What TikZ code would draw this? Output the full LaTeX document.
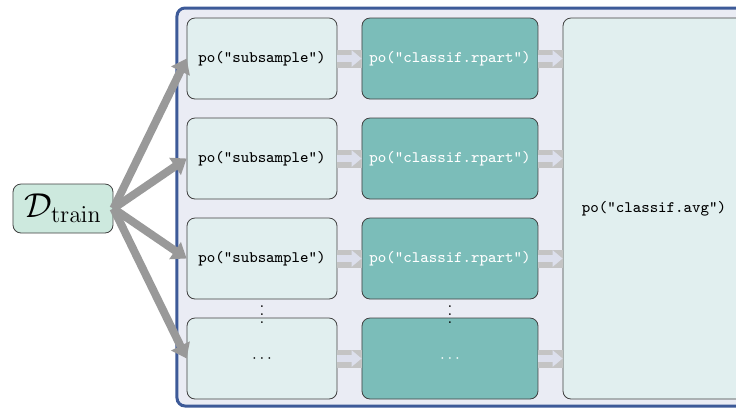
\documentclass[tikz,border=0pt]{standalone}
\usepackage{tikz}
\usetikzlibrary{arrows.meta}
\definecolor{mint}{HTML}{CDE9DE}
\definecolor{paleteal}{HTML}{E1EFEF}
\definecolor{deepteal}{HTML}{7BBDB9}
\definecolor{panelfill}{HTML}{EAECF4}
\definecolor{panelline}{HTML}{3D5A98}
\definecolor{pipegray}{HTML}{C4C4C4}
\definecolor{pipeinner}{HTML}{DCDFEC}
\tikzstyle{trainbox} = [
    rectangle,
    rounded corners=4pt,
    minimum width=50pt,
    minimum height=24.5pt,
    draw=black!75,
    fill=mint
]
\tikzstyle{subsample} = [
    rectangle,
    rounded corners=4pt,
    minimum width=75pt,
    minimum height=40.5pt,
    draw=black!75,
    fill=paleteal,
    font=\footnotesize\ttfamily
]
\tikzstyle{learner} = [
    rectangle,
    rounded corners=4pt,
    minimum width=88pt,
    minimum height=40.5pt,
    draw=black!75,
    fill=deepteal,
    text=white,
    font=\footnotesize\ttfamily
]
\tikzstyle{average} = [
    rectangle,
    rounded corners=4pt,
    minimum width=91pt,
    minimum height=190.5pt,
    draw=black!75,
    fill=paleteal,
    font=\footnotesize\ttfamily
]
\tikzstyle{arrow} = [line width=4pt, draw=black!40, -{Triangle[length=7pt,width=10pt]}]
\tikzstyle{pipe} = [
    preaction={draw=pipegray, line width=9pt, arrows=-},
    draw=pipeinner,
    line width=3.5pt,
    -{Triangle[length=5pt,width=8pt]}
]

\begin{document}
\begin{tikzpicture}[node distance=50pt]
\useasboundingbox (0,0) rectangle (368pt,-204.5pt);

% container
\draw [rounded corners=4pt, line width=1.5pt, draw=panelline, fill=panelfill]
  (88.5pt,-4pt) rectangle (380pt,-203pt);

\node (train) [trainbox] at (31.5pt,-104.25pt) {\LARGE$\mathcal{D}_{\mathrm{train}}$};

\node (sub1) [subsample] at (131pt,-29.25pt) {po("subsample")};

\node (sub2) [subsample, below of=sub1] {po("subsample")};

\node (sub3) [subsample, below of=sub2] {po("subsample")};

\node (sub4) [subsample, below of=sub3] {$\cdots$};

\node (tree1) [learner, right of=sub1, node distance=94pt] {po("classif.rpart")};

\node (tree2) [learner, right of=sub2, node distance=94pt] {po("classif.rpart")};

\node (tree3) [learner, right of=sub3, node distance=94pt] {po("classif.rpart")};

\node (tree4) [learner, right of=sub4, node distance=94pt] {$\cdots$};

\node (avg) [average] at (327pt,-104.25pt) {po("classif.avg")};

\path (sub3.south) -- (sub4.north) node (vdotsa) [midway, inner sep=0pt, font=\footnotesize] {$\vdots$};
\path (tree3.south) -- (tree4.north) node (vdotsb) [midway, inner sep=0pt, font=\footnotesize] {$\vdots$};

\foreach \i in {1,...,4} {
  \draw [arrow] (train.east) -- (sub\i.west);
  \draw [pipe] (sub\i.east) -- (tree\i.west);
  \draw [pipe] (tree\i.east) -- (tree\i.east -| avg.west);
}

\end{tikzpicture}
\end{document}
